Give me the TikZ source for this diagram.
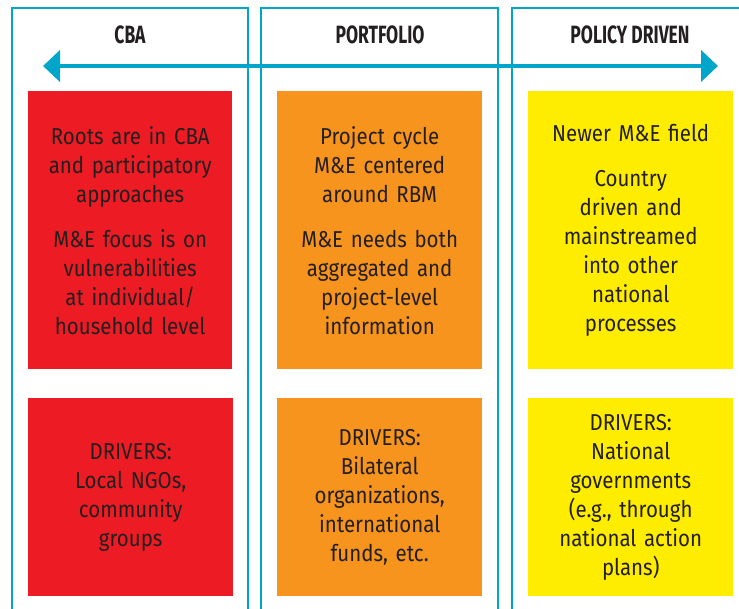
\documentclass[tikz,border=0pt]{standalone}
\usepackage{fontspec}
\setmainfont{Fira Sans}[FakeStretch=0.89]
\newfontfamily\headfont{Fira Sans}[FakeStretch=0.7]
\usetikzlibrary{arrows.meta}

\definecolor{frameblue}{RGB}{0,166,202}
\definecolor{cbared}{RGB}{237,28,36}
\definecolor{portorange}{RGB}{247,148,29}
\definecolor{polyellow}{RGB}{255,237,0}
\definecolor{inkgray}{RGB}{35,31,32}

\tikzset{
  colframe/.style={draw=frameblue, line width=2.6pt},
  header/.style={font=\headfont\bfseries\fontsize{25}{28}\selectfont, text=inkgray, anchor=center},
  topbox/.style={anchor=north west, minimum width=205pt, minimum height=278pt, inner sep=0pt,
    text width=204pt, align=center, font=\fontsize{23}{29}\selectfont, text=inkgray},
  botbox/.style={topbox, minimum height=198pt},
  spectrum/.style={frameblue, line width=4.2pt, {Triangle[length=17pt,width=31pt]}-{Triangle[length=17pt,width=31pt]}}
}

\begin{document}
\begin{tikzpicture}[x=1pt,y=-1pt]
                    \useasboundingbox (0,0) rectangle (739,609);
                    % Column frames:
                    \draw[colframe] (12,615) -- (12,8) -- (248,8) -- (248,615);
                    \draw[colframe] (261,615) -- (261,8) -- (498,8) -- (498,615);
                    \draw[colframe] (512,615) -- (512,8) -- (750,8);
                    % Headers:
                    \node[header] (cba) at (130,35) {CBA};
                    \node[header] (portfolio) at (380,35) {PORTFOLIO};
                    \node[header] (policy) at (630,35) {POLICY DRIVEN};
                    % Arrow:
                    \coordinate (leftend) at (43,66);
                    \coordinate (rightend) at (718,66);
                    \draw[spectrum] (leftend) -- (rightend);
                    % Boxes:
                    \node[topbox, fill=cbared, minimum width=201pt] (cbatop) at (28,91)
                      {Roots are in CBA\\and participatory\\approaches\\[16pt]M\&E focus is on\\vulnerabilities\\at individual/\\household level};
                    \node[botbox, fill=cbared] (cbabot) at (28,398)
                      {DRIVERS:\\Local NGOs,\\community\\groups};
                    \node[topbox, fill=portorange] (porttop) at (277,91)
                      {Project cycle\\M\&E centered\\around RBM\\[16pt]M\&E needs both\\aggregated and\\project-level\\information};
                    \node[botbox, fill=portorange] (portbot) at (277,398)
                      {DRIVERS:\\Bilateral\\organizations,\\international\\funds, etc.};
                    \node[topbox, fill=polyellow] (poltop) at (528,91)
                      {Newer M\&E field\\[16pt]Country\\driven and\\mainstreamed\\into other\\national\\processes};
                    \node[botbox, fill=polyellow] (polbot) at (528,398)
                      {DRIVERS:\\National\\governments\\(e.g., through\\national action\\plans)};
                \end{tikzpicture}
\end{document}
